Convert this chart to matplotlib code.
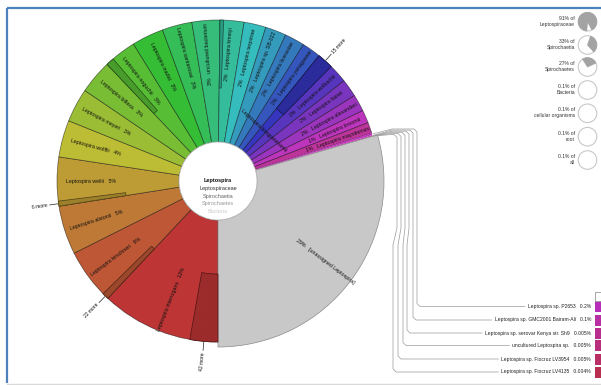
import colorsys
import numpy as np
import matplotlib
matplotlib.use("Agg")
import matplotlib.pyplot as plt
from matplotlib.patches import Wedge, Circle, Rectangle

plt.rcParams['font.family'] = ['Liberation Sans', 'DejaVu Sans']
plt.rcParams['hatch.linewidth'] = 0.3

# species under Leptospira, clockwise from the bottom of the wheel
species = ["Leptospira interrogans", "Leptospira kirschneri", "Leptospira alstonii",
           "Leptospira weilii", "Leptospira wolffii", "Leptospira meyeri",
           "Leptospira biflexa", "Leptospira noguchii", "Leptospira inadai",
           "Leptospira santarosai", "uncultured bacterium", "Leptospira kmetyi",
           "Leptospira terpstrae", "Leptospira sp. SB-022", "Leptospira licerasiae",
           "Leptospira yanagawae", "15 more", "Leptospira wolbachii",
           "Leptospira fainei", "Leptospira alexanderi", "Leptospira broomii",
           "Leptospira mayottensis"]
percent = [12.0, 5.6, 4.9, 4.9, 3.7, 3.4, 3.4, 3.3, 3.2, 3.0, 2.8, 2.4, 2.2,
           2.1, 2.0, 1.9, 1.6, 1.9, 1.8, 1.7, 1.3, 1.1]

# tiny species listed off to the side
small_names = ["Leptospira sp. P2653", "Leptospira sp. GMC2001 Bairam-Ali",
               "Leptospira sp. serovar Kenya str. Sh9", "uncultured Leptospira sp.",
               "Leptospira sp. Fiocruz LV3954", "Leptospira sp. Fiocruz LV4135"]
small_percent = [0.2, 0.1, 0.005, 0.005, 0.005, 0.004]

unassigned_name = "[unassigned Leptospira]"
unassigned = 29.48

# collapsed children drawn as hatched boxes in the outer ring
more_parent = ["Leptospira interrogans", "Leptospira kirschneri", "Leptospira weilii",
               "Leptospira noguchii", "Leptospira kmetyi", "15 more"]
more_percent = [2.8, 0.65, 0.5, 0.8, 0.35, 1.6]
more_label = ["42 more", "22 more", "6 more", "", "", "15 more"]

lineage = ["Leptospira", "Leptospiraceae", "Spirochaetia", "Spirochaetes", "Bacteria"]

key_names = ["Leptospiraceae", "Spirochaetia", "Spirochaetes", "Bacteria",
             "cellular organisms", "root", "all"]
key_percent = [91, 33, 27, 0.1, 0.1, 0.1, 0.1]

H = 385
cx, cy = 218, H - 181
R, R_grey, r_in, r_child = 161, 166, 39, 93


def pol(r, a):
    t = np.radians(a)
    return cx + r * np.cos(t), cy + r * np.sin(t)


def hsv(h, s=0.72, v=0.74):
    return colorsys.hsv_to_rgb((h % 360) / 360.0, s, v)


def darker(c, f=0.6):
    return tuple(x * f for x in c)


fig = plt.figure(figsize=(6.01, 3.85), dpi=100)
ax = fig.add_axes([0, 0, 1, 1])
ax.set_xlim(0, 601)
ax.set_ylim(0, H)
ax.axis('off')

total = sum(percent) + sum(small_percent) + unassigned
edge = (0, 0, 0, 0.55)

# wheel, clockwise from 270 degrees
a = 270.0
spans = {}
for i, (name, p) in enumerate(zip(species, percent)):
    span = p / total * 360
    col = hsv(i * 15)
    ax.add_patch(Wedge((cx, cy), R, a - span, a, width=R - r_in,
                       facecolor=col, edgecolor=edge, lw=0.5))
    spans[name] = (a, span, col)
    mid = a - span / 2
    if name != "15 more":
        pct = f"{round(p)}%"
        x, y = pol(127, mid)
        if mid > 97:
            ax.text(x, y, f"{name}   {pct}", rotation=mid - 180, fontsize=3.8,
                    ha='center', va='center', rotation_mode='anchor', color='#111')
        else:
            ax.text(x, y, f"{pct}   {name}", rotation=mid, fontsize=3.8,
                    ha='center', va='center', rotation_mode='anchor', color='#111')
    a -= span

small_mid = []
for j, p in enumerate(small_percent):
    span = p / total * 360
    ax.add_patch(Wedge((cx, cy), R, a - span, a, width=R - r_in,
                       facecolor=hsv(300 + j * 9), edgecolor='none'))
    small_mid.append(a - span / 2)
    a -= span

# unassigned reads
span = unassigned / total * 360
ax.add_patch(Wedge((cx, cy), R_grey, a - span, a, width=R_grey - r_in,
                   facecolor='#c8c8c8', edgecolor='#8a8a8a', lw=0.5))
mid = a - span / 2
x, y = pol(134, mid)
ax.text(x, y, f"{round(unassigned / total * 100)}%   {unassigned_name}",
        rotation=mid, fontsize=3.8, ha='center', va='center',
        rotation_mode='anchor', color='#111')

# hatched "more" boxes and their pointers
for parent, p, lab in zip(more_parent, more_percent, more_label):
    start, pspan, col = spans[parent]
    span = p / total * 360
    ax.add_patch(Wedge((cx, cy), R, start - span, start, width=R - r_child,
                       facecolor=col, edgecolor=darker(col, 0.78), lw=0,
                       hatch='x' * 22))
    ax.add_patch(Wedge((cx, cy), R, start - span, start, width=R - r_child,
                       fill=False, edgecolor=darker(col, 0.4), lw=0.5))
    if lab:
        m = start - span / 2
        x0, y0 = pol(R + 1, m)
        x1, y1 = pol(R + 9, m)
        ax.plot([x0, x1], [y0, y1], color='#222', lw=0.5)
        x2, y2 = pol(R + 11, m)
        if 90 < m < 270:
            ax.text(x2, y2, lab, rotation=m - 180, fontsize=3.6, ha='right',
                    va='center', rotation_mode='anchor', color='#111')
        else:
            ax.text(x2, y2, lab, rotation=m, fontsize=3.6, ha='left',
                    va='center', rotation_mode='anchor', color='#111')

ax.text(*pol(68, 47.4), "Leptospira borgpetersenii", rotation=47.4 - 90,
        fontsize=3.8, ha='center', va='center', rotation_mode='anchor', color='#111')

# centre with the lineage
ax.add_patch(Circle((cx, cy), r_in, facecolor='white', edgecolor='#bbbbbb', lw=0.6))
shades = ['#111111', '#333333', '#666666', '#999999', '#cccccc']
for k, (name, c) in enumerate(zip(lineage, shades)):
    ax.text(cx, H - (180.7 + k * 7.7), name, fontsize=4, ha='center', va='center',
            color=c, fontweight='bold' if k == 0 else 'normal')

# key pies on the right
key_y = [21.7, 45, 67, 90, 113.3, 136.7, 160]
key_start = [-62, -48, 25, 90, 90, 90, 90]
for name, p, yk, st in zip(key_names, key_percent, key_y, key_start):
    yc = H - yk
    ax.add_patch(Circle((587.5, yc), 9.3, facecolor='white', edgecolor='#c8c8c8', lw=0.8))
    if p >= 1:
        ax.add_patch(Wedge((587.5, yc), 9.3, st, st + p * 3.6,
                           facecolor='#a3a3a3', edgecolor='#a3a3a3', lw=0.5))
    ax.text(575, yc + 0.5, f"{p:g}% of\n{name}", fontsize=3.6, ha='right',
            va='center', linespacing=1.25, color='#333')

# list of tiny species with their leader lines
lab_y = [306.5, 320, 333, 345.5, 359, 372]
x_top = [417, 413, 409, 405, 401, 397]
x_bot = [417, 413, 407, 403, 398, 393]
texts = []
for j, (name, p, yl) in enumerate(zip(small_names, small_percent, lab_y)):
    t = ax.text(591, H - yl, f"{name}   {p:g}%", fontsize=3.6, ha='right',
                va='center', color='#222')
    texts.append(t)
    ax.add_patch(Rectangle((595, H - yl - 5.5), 8, 11, facecolor=hsv(300 + j * 9, 0.75, 0.72),
                           edgecolor='none'))
ax.add_patch(Rectangle((594.5, H - 301), 8, 9, facecolor='white', edgecolor='#999', lw=0.6))

fig.canvas.draw()
inv = ax.transData.inverted()
for j, t in enumerate(texts):
    bb = t.get_window_extent()
    tx = inv.transform((bb.x0, bb.y0))[0] - 3
    x0, y0 = pol(R + 1, small_mid[j])
    yh = H - (129 + j * 1.1)
    yl = H - lab_y[j]
    xs = [x0, 392, x_top[j] - 3, x_top[j], x_top[j], x_bot[j], x_bot[j], x_bot[j] + 3, tx]
    ys = [y0, yh, yh, yh - 3, H - 228, H - 245, yl + 3, yl, yl]
    ax.plot(xs, ys, color='#9a9a9a', lw=0.5)

# page frame
ax.plot([7, 601], [H - 8, H - 8], color='#4f81bd', lw=1.6, solid_capstyle='butt')
ax.plot([7, 7], [H - 8, H - 383], color='#4f81bd', lw=1.6, solid_capstyle='butt')
ax.plot([7, 601], [H - 383.5, H - 383.5], color='#d9d9d9', lw=1)

fig.savefig("out.png", dpi=100)
